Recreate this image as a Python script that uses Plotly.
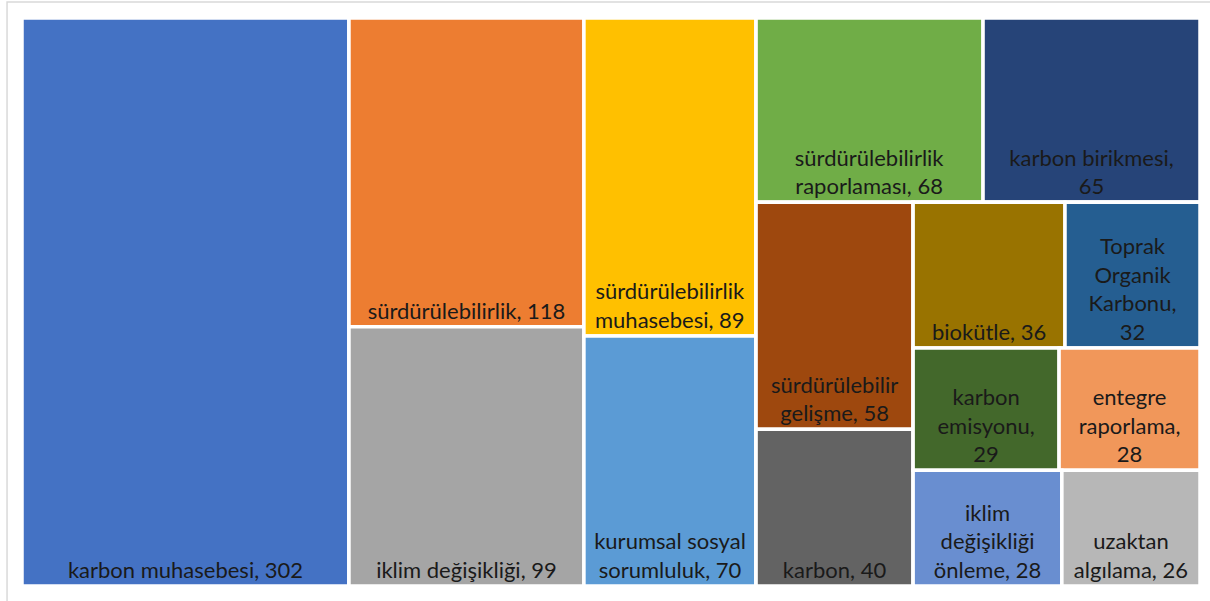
import plotly.graph_objects as go

# Keyword frequencies
keywords = [
    "karbon muhasebesi", "sürdürülebilirlik", "iklim değişikliği",
    "sürdürülebilirlik muhasebesi", "kurumsal sosyal sorumluluk",
    "sürdürülebilirlik raporlaması", "karbon birikmesi",
    "sürdürülebilir gelişme", "karbon", "biokütle",
    "Toprak Organik Karbonu", "karbon emisyonu", "entegre raporlama",
    "iklim değişikliği önleme", "uzaktan algılama",
]
counts = [302, 118, 99, 89, 70, 68, 65, 58, 40, 36, 32, 29, 28, 28, 26]

# Wrapped label text and whether the count goes on its own line
wrapped = [
    "karbon muhasebesi", "sürdürülebilirlik", "iklim değişikliği",
    "sürdürülebilirlik<br>muhasebesi", "kurumsal sosyal<br>sorumluluk",
    "sürdürülebilirlik<br>raporlaması", "karbon birikmesi",
    "sürdürülebilir<br>gelişme", "karbon", "biokütle",
    "Toprak<br>Organik<br>Karbonu", "karbon<br>emisyonu", "entegre<br>raporlama",
    "iklim<br>değişikliği<br>önleme", "uzaktan<br>algılama",
]
count_on_new_line = [False, False, False, False, False, False, True,
                     False, False, False, True, True, True, False, False]

colors = [
    "#4472C4", "#ED7D31", "#A5A5A5", "#FFC000", "#5B9BD5", "#70AD47",
    "#264478", "#9E480E", "#636363", "#997300", "#255E91", "#43682B",
    "#F1975A", "#698ED0", "#B7B7B7",
]

# Tiling blocks (slice-dice alternates direction with depth)
blocks = ["b1", "b2", "b3", "b3a", "b3b", "b3b1", "b3b2", "r1", "r2", "r3"]
block_parents = ["", "", "", "b3", "b3", "b3b", "b3b", "b3b2", "b3b2", "b3b2"]
keyword_block = ["", "b1", "b1", "b2", "b2", "b3a", "b3a", "b3b1", "b3b1",
                 "r1", "r1", "r2", "r2", "r3", "r3"]

ids = [f"k{i}" for i in range(len(keywords))] + blocks
parents = keyword_block + block_parents
labels = keywords + [""] * len(blocks)
values = counts + [0] * len(blocks)
node_colors = colors + ["white"] * len(blocks)
texts = wrapped + [""] * len(blocks)
templates = [
    "%{text},<br>%{value}" if nl else "%{text}, %{value}" for nl in count_on_new_line
] + ["%{text}"] * len(blocks)

fig = go.Figure(
    go.Treemap(
        ids=ids,
        labels=labels,
        parents=parents,
        values=values,
        text=texts,
        texttemplate=templates,
        branchvalues="remainder",
        sort=False,
        tiling=dict(packing="slice-dice", pad=0),
        marker=dict(
            colors=node_colors,
            line=dict(color="white", width=3.5),
            pad=dict(t=0, l=0, r=0, b=0),
            depthfade=False,
        ),
        pathbar=dict(visible=False),
        textposition="bottom center",
        textfont=dict(family="Lato", size=22, color="#1a1a1a"),
        hoverinfo="label+value",
    )
)

fig.update_layout(
    width=1210,
    height=601,
    margin=dict(l=22, r=10, t=18, b=15),
    paper_bgcolor="white",
    plot_bgcolor="white",
    showlegend=False,
    shapes=[
        dict(
            type="rect", xref="paper", yref="paper",
            x0=-0.0127, x1=1.02, y0=-0.05, y1=1.0282,
            line=dict(color="#d9d9d9", width=1.5),
            fillcolor="rgba(0,0,0,0)", layer="below",
        )
    ],
)

fig.write_html("out.html")
